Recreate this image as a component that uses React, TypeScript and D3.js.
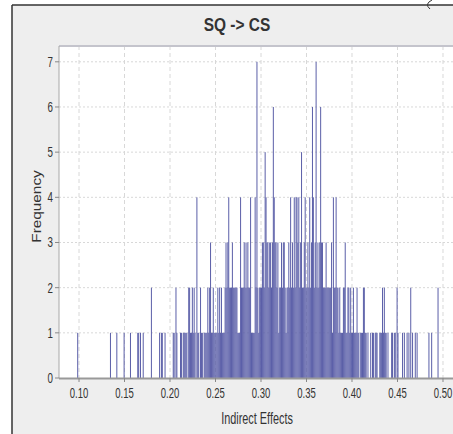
import React from 'react';
import * as d3 from 'd3';

// histogram of bootstrapped indirect effects, bins of width 0.001 starting at 0.095
const binStart = 0.095;
const binWidth = 0.001;

const counts095to149 = [
  0, 0, 0, 1, 0, 0, 0, 0, 0, 0,
  0, 0, 0, 0, 0, 0, 0, 0, 0, 0,
  0, 0, 0, 0, 0, 0, 0, 0, 0, 0,
  0, 0, 0, 0, 0, 0, 0, 0, 0, 1,
  0, 0, 0, 0, 0, 0, 1, 0, 0, 0,
  0, 0, 0, 0, 1,
];
const counts150to199 = [
  0, 0, 0, 0, 0, 0, 1, 0, 0, 0,
  0, 0, 0, 0, 1, 1, 0, 1, 0, 0,
  1, 0, 0, 0, 0, 0, 0, 0, 0, 2,
  0, 0, 0, 0, 0, 0, 0, 0, 1, 0,
  1, 1, 0, 0, 1, 0, 0, 0, 0, 0,
];
const counts200to249 = [
  0, 0, 0, 1, 1, 0, 2, 1, 0, 0,
  0, 1, 1, 0, 1, 1, 1, 1, 1, 0,
  2, 2, 1, 1, 2, 1, 2, 1, 0, 4,
  1, 1, 0, 2, 1, 1, 0, 1, 1, 1,
  1, 2, 1, 2, 3, 1, 1, 2, 1, 1,
];
const counts250to299 = [
  1, 1, 2, 1, 2, 1, 2, 1, 1, 1,
  2, 3, 2, 3, 4, 2, 2, 2, 3, 2,
  2, 2, 2, 2, 1, 1, 1, 4, 2, 2,
  2, 3, 2, 3, 2, 3, 2, 2, 4, 1,
  1, 1, 1, 4, 2, 7, 2, 1, 2, 2,
];
const counts300to349 = [
  2, 3, 3, 2, 5, 4, 3, 3, 2, 3,
  3, 2, 3, 6, 4, 3, 3, 2, 3, 1,
  2, 2, 3, 2, 3, 3, 2, 1, 2, 2,
  3, 2, 4, 2, 3, 2, 4, 2, 4, 4,
  3, 4, 2, 3, 5, 2, 2, 3, 4, 2,
];
const counts350to399 = [
  2, 3, 2, 4, 2, 3, 6, 4, 2, 3,
  7, 2, 3, 2, 3, 6, 3, 3, 2, 2,
  2, 3, 2, 2, 2, 2, 2, 3, 1, 4,
  2, 2, 4, 2, 2, 1, 2, 1, 1, 1,
  2, 2, 3, 1, 1, 2, 2, 1, 2, 1,
];
const counts400to449 = [
  1, 2, 1, 1, 1, 2, 1, 1, 0, 1,
  1, 1, 2, 2, 1, 1, 0, 1, 0, 0,
  1, 0, 1, 1, 0, 1, 1, 1, 0, 0,
  1, 1, 1, 2, 1, 2, 1, 1, 0, 1,
  0, 0, 0, 1, 1, 0, 1, 1, 0, 2,
];
const counts450to499 = [
  1, 0, 0, 0, 0, 1, 0, 1, 0, 0,
  1, 0, 1, 0, 2, 0, 1, 0, 0, 1,
  0, 1, 0, 0, 0, 0, 0, 0, 0, 0,
  0, 0, 0, 0, 1, 0, 0, 1, 0, 0,
  0, 0, 0, 0, 2, 0, 0, 0, 0, 0,
];

const xTicks = [0.1, 0.15, 0.2, 0.25, 0.3, 0.35, 0.4, 0.45, 0.5];
const yTicks = [0, 1, 2, 3, 4, 5, 6, 7];

const title = 'SQ -> CS';
const xLabel = 'Indirect Effects';
const yLabel = 'Frequency';

const allCounts = [
  ...counts095to149, ...counts150to199, ...counts200to249, ...counts250to299,
  ...counts300to349, ...counts350to399, ...counts400to449, ...counts450to499,
];
const bins = allCounts.map((c, i) => ({ x0: binStart + i * binWidth, count: c }));

const W = 453;
const H = 434;
const plot = { left: 59, top: 46, right: 453, bottom: 378 };
const font = '"Liberation Sans", Arial, sans-serif';
const barColor = '#5b5fa8';

// the source picture is a bit stretched vertically, so text is squeezed horizontally
function SText({ x, y, sx = 1, size, anchor = 'middle', weight = 'normal', children, rotate = 0 }: any) {
  return (
    <text transform={`translate(${x},${y}) rotate(${rotate}) scale(${sx},1)`} textAnchor={anchor}
      fontFamily={font} fontSize={size} fontWeight={weight} fill="#333">{children}</text>
  );
}

export default function App() {
  const x = d3.scaleLinear().domain([0.078, 0.511]).range([plot.left, plot.right]);
  const y = d3.scaleLinear().domain([0, 7.35]).range([plot.bottom, plot.top]);
  const fmt = d3.format('.2f');

  return (
    <svg width={W} height={H} style={{ position: 'absolute', left: 0, top: 0 }}>
      {/* panel */}
      <rect x={12} y={5} width={W - 12} height={H - 5} fill="#eeeeee" />
      <line x1={12} y1={5} x2={W} y2={5} stroke="#333" strokeWidth={1.5} />
      <line x1={12} y1={5} x2={12} y2={H} stroke="#333" strokeWidth={1.5} />
      <path d="M432,0 Q424,4 430,9" fill="none" stroke="#333" strokeWidth={1} />

      <SText x={237} y={31} sx={0.86} size={18} weight="bold">{title}</SText>

      {/* plot area */}
      <rect x={plot.left} y={plot.top} width={plot.right - plot.left} height={plot.bottom - plot.top} fill="#ffffff" />

      {xTicks.map(t => (
        <line key={'gx' + t} x1={x(t)} x2={x(t)} y1={plot.top} y2={plot.bottom}
          stroke="#d8d8d8" strokeWidth={1} strokeDasharray="4,3" />
      ))}
      {yTicks.filter(t => t > 0).map(t => (
        <line key={'gy' + t} x1={plot.left} x2={plot.right} y1={y(t)} y2={y(t)}
          stroke="#d8d8d8" strokeWidth={1} strokeDasharray="2,2" />
      ))}

      {bins.filter(b => b.count > 0).map((b, i) => (
        <rect key={'b' + i} x={x(b.x0)} y={y(b.count)}
          width={Math.max(1, x(b.x0 + binWidth) - x(b.x0))}
          height={y(0) - y(b.count)} fill={barColor} />
      ))}

      {/* frame */}
      <line x1={plot.left} x2={plot.right} y1={plot.top} y2={plot.top} stroke="#c4c4cc" strokeWidth={2} />
      <line x1={plot.left} x2={plot.left} y1={plot.top} y2={plot.bottom} stroke="#a8a8a8" strokeWidth={1} />
      <line x1={plot.left} x2={plot.right} y1={plot.bottom + 0.5} y2={plot.bottom + 0.5} stroke="#999" strokeWidth={2} />

      {yTicks.map(t => (
        <g key={'yt' + t}>
          <line x1={plot.left - 4} x2={plot.left} y1={y(t)} y2={y(t)} stroke="#888" />
          <SText x={plot.left - 6} y={y(t) + 5} sx={0.7} size={14} anchor="end">{t}</SText>
        </g>
      ))}
      {xTicks.map(t => (
        <g key={'xt' + t}>
          <line x1={x(t)} x2={x(t)} y1={plot.bottom} y2={plot.bottom + 4} stroke="#888" />
          <SText x={x(t)} y={398} sx={0.68} size={14}>{fmt(t)}</SText>
        </g>
      ))}

      <SText x={257} y={424} sx={0.68} size={16}>{xLabel}</SText>
      <text transform={`translate(41, 206.5) rotate(-90) scale(1.28,1)`} textAnchor="middle"
        fontFamily={font} fontSize={12} fill="#333">{yLabel}</text>
    </svg>
  );
}
